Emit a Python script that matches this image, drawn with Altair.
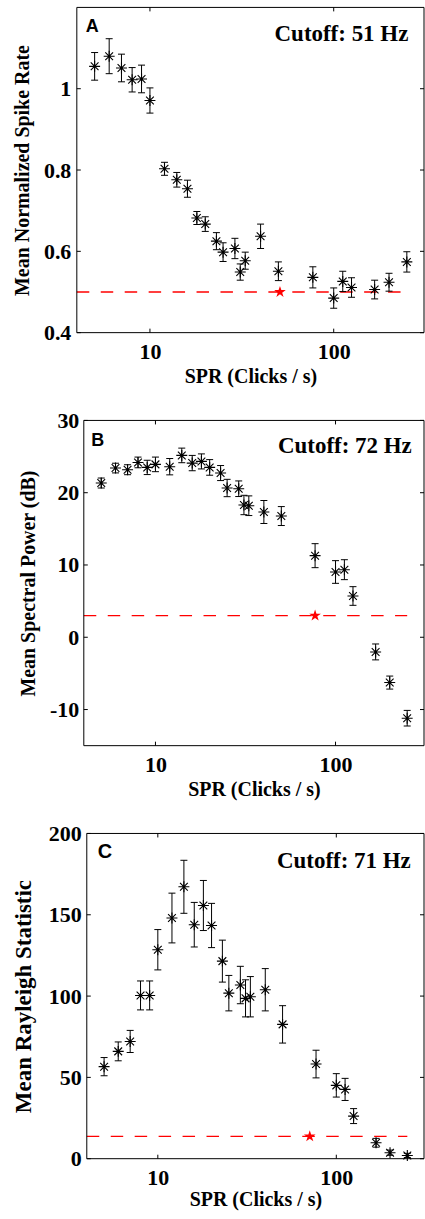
import altair as alt
import pandas as pd

# ---------------- data ----------------
spr = [5, 6, 7, 8, 9, 10, 12, 14, 16, 18, 20, 23, 25, 29, 31, 33, 40, 50, 77, 100, 112, 125, 167, 200, 250]

rate_mean = [1.055, 1.080, 1.051, 1.022, 1.024, 0.971, 0.803, 0.776, 0.754, 0.682, 0.667, 0.625, 0.598,
             0.607, 0.549, 0.577, 0.637, 0.551, 0.536, 0.485, 0.526, 0.511, 0.506, 0.524, 0.574]
rate_err = [0.034, 0.043, 0.034, 0.030, 0.034, 0.031, 0.016, 0.018, 0.021, 0.016, 0.018, 0.021, 0.023,
            0.025, 0.020, 0.021, 0.030, 0.023, 0.026, 0.025, 0.025, 0.024, 0.023, 0.022, 0.025]

power_mean = [21.34, 23.41, 23.18, 24.19, 23.5, 23.92, 23.6, 25.16, 24.1, 24.33, 23.5, 22.72, 20.65,
              20.55, 18.3, 18.2, 17.33, 16.77, 11.29, 9.03, 9.35, 5.71, -2.03, -6.27, -11.2]
power_err = [0.69, 0.67, 0.69, 0.74, 0.99, 1.01, 1.13, 1.01, 1.06, 1.04, 1.08, 1.04, 1.2,
             1.08, 1.34, 1.36, 1.59, 1.31, 1.66, 1.57, 1.38, 1.29, 1.1, 0.9, 1.08]

rayleigh_mean = [56.6, 66.0, 72.1, 100.4, 100.4, 128.5, 148.0, 167.2, 143.9, 155.7, 143.4, 121.5, 101.8,
                 106.8, 98.6, 99.6, 103.9, 82.6, 58.2, 45.1, 42.6, 26.2, 9.8, 3.7, 2.0]
rayleigh_err = [5.6, 5.8, 6.8, 8.9, 8.9, 12.4, 15.3, 16.3, 13.7, 15.4, 13.6, 12.9, 10.9,
                11.5, 11.4, 12.4, 13.0, 11.5, 8.5, 7.2, 6.8, 4.6, 2.7, 1.6, 1.3]

thresholds = [0.5, 3.0, 13.7]
cutoff_x = [51, 77, 71]
cutoff_labels = ["Cutoff: 51 Hz", "Cutoff: 72 Hz", "Cutoff: 71 Hz"]
panel_letters = ["A", "B", "C"]
y_titles = ["Mean Normalized Spike Rate", "Mean Spectral Power (dB)", "Mean Rayleigh Statistic"]
y_domains = [[0.4, 1.2], [-15, 30], [0, 200]]
y_ticks = [[0.4, 0.6, 0.8, 1.0], [-10, 0, 10, 20, 30], [0, 50, 100, 150, 200]]
x_ticks = [10, 100]
x_domain = [4, 310]
line_start, line_end = 4, 250
x_title = "SPR (Clicks / s)"

SERIF = "Liberation Serif"
SANS = "Liberation Sans"
ASTERISK = "M-1,0L1,0M0,-1L0,1M-0.7071,-0.7071L0.7071,0.7071M-0.7071,0.7071L0.7071,-0.7071"
CAP = "M-1,0L1,0"
STAR = ("M0,-1L0.2245,-0.309L0.951,-0.309L0.363,0.118L0.588,0.809L0,0.382"
        "L-0.588,0.809L-0.363,0.118L-0.951,-0.309L-0.2245,-0.309Z")

W, H = 348, 326


def panel(mean, err, thr, cx, clabel, letter, ytitle, ydom, yt, d,
          ytitle_size, ytitle_pad, ylab_pad, xtitle_pad, letter_pos, letter_size, cut_pos):
    df = pd.DataFrame({
        "spr": spr,
        "m": mean,
        "lo": [a - b for a, b in zip(mean, err)],
        "hi": [a + b for a, b in zip(mean, err)],
    })
    xscale = alt.Scale(type="log", domain=x_domain, nice=False, range=[d, W])
    yscale = alt.Scale(domain=ydom, nice=False, zero=False)
    xaxis = alt.Axis(values=x_ticks, format="~g", title=x_title, ticks=False, domain=False,
                     grid=False, labelFlush=False, labelPadding=9, titlePadding=xtitle_pad,
                     labelFont=SERIF, labelFontSize=22, labelFontWeight="bold", labelColor="black",
                     titleFont=SERIF, titleFontSize=20, titleFontWeight="bold", titleColor="black")
    yaxis = alt.Axis(values=yt,
                     labelExpr="(datum.value < 0 ? '-' + abs(datum.value) + '\u00a0' : '' + datum.value)",
                     title=ytitle, ticks=False, domain=False, grid=False, labelPadding=ylab_pad,
                     titlePadding=ytitle_pad, offset=-d,
                     labelFont=SERIF, labelFontSize=22, labelFontWeight="bold", labelColor="black",
                     titleFont=SERIF, titleFontSize=ytitle_size, titleFontWeight="bold", titleColor="black")

    X = alt.X("spr:Q", scale=xscale, axis=xaxis)

    bars = alt.Chart(df).mark_rule(color="black", strokeWidth=1).encode(
        x=X, y=alt.Y("lo:Q", scale=yscale, axis=yaxis), y2="hi:Q")
    cap_lo = alt.Chart(df).mark_point(shape=CAP, size=49, filled=False, stroke="black",
                                      strokeWidth=1, opacity=1).encode(
        x=X, y=alt.Y("lo:Q", scale=yscale, axis=yaxis))
    cap_hi = alt.Chart(df).mark_point(shape=CAP, size=49, filled=False, stroke="black",
                                      strokeWidth=1, opacity=1).encode(
        x=X, y=alt.Y("hi:Q", scale=yscale, axis=yaxis))
    pts = alt.Chart(df).mark_point(shape=ASTERISK, size=121, filled=False, stroke="black",
                                   strokeWidth=1.1, opacity=1).encode(
        x=X, y=alt.Y("m:Q", scale=yscale, axis=yaxis))

    thr_df = pd.DataFrame({"spr": [line_start], "x1": [line_end], "m": [thr]})
    thr_line = alt.Chart(thr_df).mark_rule(color="#ff0000", strokeWidth=1.3, strokeDash=[12.5, 11.5]).encode(
        x=X, x2="x1:Q", y=alt.Y("m:Q", scale=yscale, axis=yaxis))
    star_df = pd.DataFrame({"spr": [cx], "m": [thr]})
    star = alt.Chart(star_df).mark_point(shape=STAR, size=150, filled=True, color="#ff0000",
                                         strokeWidth=0, opacity=1).encode(
        x=X, y=alt.Y("m:Q", scale=yscale, axis=yaxis))

    # frame box
    one = pd.DataFrame({"k": [0]})
    box_l = alt.Chart(one).mark_rule(color="black", strokeWidth=1).encode(
        x=alt.value(d), y=alt.value(0), y2=alt.value(H))
    box_r = alt.Chart(one).mark_rule(color="black", strokeWidth=1).encode(
        x=alt.value(W), y=alt.value(0), y2=alt.value(H))
    box_t = alt.Chart(one).mark_rule(color="black", strokeWidth=1).encode(
        x=alt.value(d), x2=alt.value(W), y=alt.value(0))
    box_b = alt.Chart(one).mark_rule(color="black", strokeWidth=1).encode(
        x=alt.value(d), x2=alt.value(W), y=alt.value(H))

    # inward tick marks on all four sides
    yt_df = pd.DataFrame({"v": yt})
    xt_df = pd.DataFrame({"v": x_ticks})
    tl = alt.Chart(yt_df).mark_rule(color="black", strokeWidth=1).encode(
        x=alt.value(d), x2=alt.value(d + 4), y=alt.Y("v:Q", scale=yscale, axis=yaxis))
    tr = alt.Chart(yt_df).mark_rule(color="black", strokeWidth=1).encode(
        x=alt.value(W - 4), x2=alt.value(W), y=alt.Y("v:Q", scale=yscale, axis=yaxis))
    tb = alt.Chart(xt_df).mark_rule(color="black", strokeWidth=1).encode(
        x=alt.X("v:Q", scale=xscale, axis=xaxis), y=alt.value(H - 4), y2=alt.value(H))
    tt = alt.Chart(xt_df).mark_rule(color="black", strokeWidth=1).encode(
        x=alt.X("v:Q", scale=xscale, axis=xaxis), y=alt.value(0), y2=alt.value(4))

    lab_df = pd.DataFrame({"t": [letter]})
    let_txt = alt.Chart(lab_df).mark_text(font=SANS, fontSize=letter_size, fontWeight="bold", color="black",
                                          align="left", baseline="alphabetic").encode(
        text="t:N", x=alt.value(d + letter_pos[0]), y=alt.value(letter_pos[1]))
    cut_df = pd.DataFrame({"t": [clabel]})
    cut_txt = alt.Chart(cut_df).mark_text(font=SERIF, fontSize=23, fontWeight="bold", color="black",
                                          align="right", baseline="alphabetic").encode(
        text="t:N", x=alt.value(W - cut_pos[0]), y=alt.value(cut_pos[1]))

    return alt.layer(thr_line, bars, cap_lo, cap_hi, pts, star, box_l, box_r, box_t, box_b,
                     tl, tr, tb, tt, let_txt, cut_txt).properties(width=W, height=H)


pA = panel(rate_mean, rate_err, thresholds[0], cutoff_x[0], cutoff_labels[0], panel_letters[0],
           y_titles[0], y_domains[0], y_ticks[0], 0, 20, 10.5, 6, 4, (9, 25), 18, (15.7, 34))
pB = panel(power_mean, power_err, thresholds[1], cutoff_x[1], cutoff_labels[1], panel_letters[1],
           y_titles[1], y_domains[1], y_ticks[1], 7, 20, 11.2, 5, 3.5, (7.4, 25.7), 18, (12.3, 33))
pC = panel(rayleigh_mean, rayleigh_err, thresholds[2], cutoff_x[2], cutoff_labels[2], panel_letters[2],
           y_titles[2], y_domains[2], y_ticks[2], 10, 23, 12.4, 5.6, 0.5, (11, 25), 20, (13.3, 34.4))

chart = alt.vconcat(pA, pB, pC, spacing=23).properties(
    padding={"left": 13, "top": 5, "right": 0, "bottom": 0}
).configure(background="white").configure_view(strokeWidth=0)

chart.save("out.html", embed_options={"renderer": "svg", "actions": False})
